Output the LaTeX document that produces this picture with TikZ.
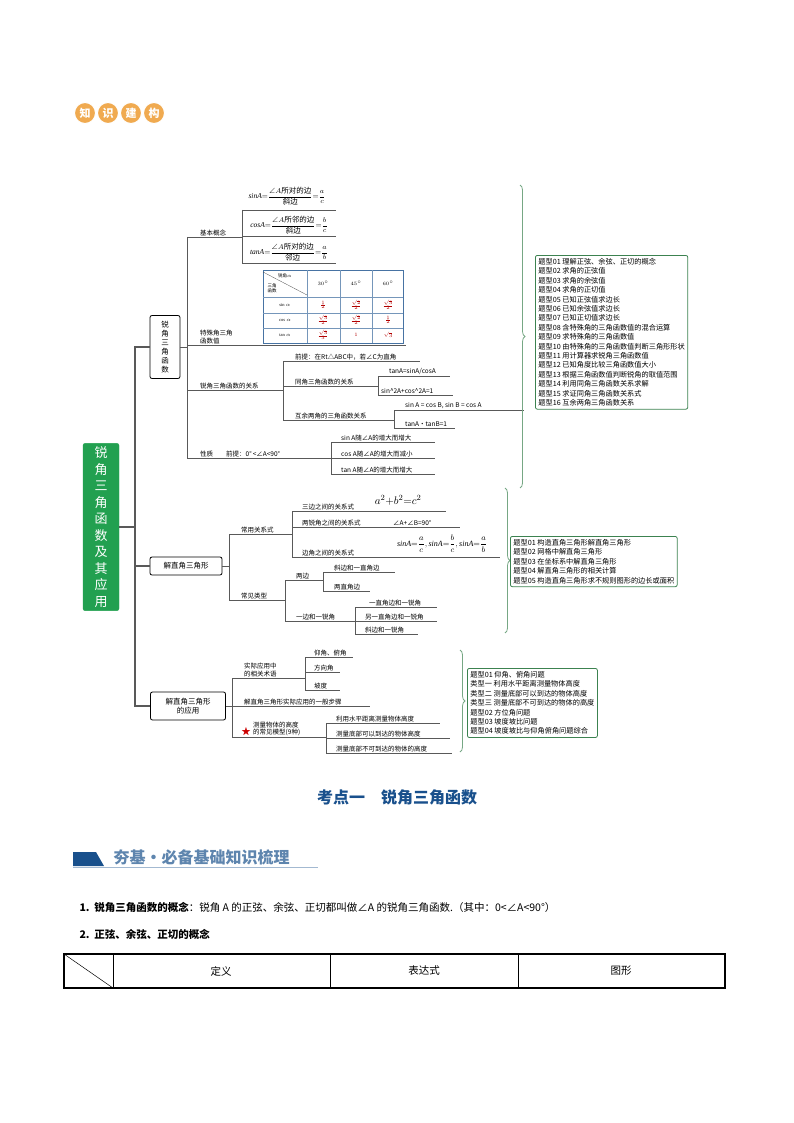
\documentclass[tikz,border=0pt]{standalone}
\usepackage{fontspec}
\usepackage{amsmath,amssymb}
\setmainfont{Liberation Serif}
\newfontfamily\cjk{Noto Sans CJK SC}
\usetikzlibrary{positioning,decorations.pathreplacing}
\definecolor{mgreen}{RGB}{34,160,80}
\definecolor{bgreen}{RGB}{60,130,80}
\definecolor{dblue}{RGB}{25,80,140}
\definecolor{lorange}{RGB}{240,170,80}
\tikzset{
  ln/.style={draw=black!65,line width=0.5pt},
  lbl/.style={font=\cjk\fontsize{6.5}{7.5}\selectfont,inner sep=1pt,anchor=south west},
  sub/.style={draw=black,line width=0.8pt,rounded corners=2pt,fill=white,font=\cjk\fontsize{7.5}{9}\selectfont,align=center},
  qbox/.style={draw=bgreen,line width=0.8pt,rounded corners=2pt,font=\cjk\fontsize{7.2}{9.4}\selectfont,align=left,anchor=north west,inner sep=3pt},
  brc/.style={draw=bgreen!70,line width=0.8pt,decorate,decoration={brace,amplitude=5pt}},
  logo/.style={circle,fill=lorange,draw=white,line width=1pt,minimum size=21pt,inner sep=0pt,text=white,font=\cjk\bfseries\fontsize{11}{11}\selectfont},
  red/.style={text=red!70!black}
}
\begin{document}
\begin{tikzpicture}[x=1pt,y=-1pt]
\useasboundingbox (0,0) rectangle (794,1123);
% logo
\foreach \t [count=\i] in {知,识,建,构}{
  \node[logo] (lg\i) at ({62+23*\i},113) {\t};
}
% main box and trunk
\node[draw=mgreen,fill=mgreen,rounded corners=2pt,minimum width=36pt,minimum height=151pt,text=white,font=\cjk\fontsize{13}{16.5}\selectfont,align=center] (root) at (101,527) {锐\\角\\三\\角\\函\\数\\及\\其\\应\\用};
\node[sub,minimum width=30pt,minimum height=63pt] (b1) at (165,347) {锐\\角\\三\\角\\函\\数};
\node[sub,minimum width=72pt,minimum height=18pt] (b2) at (186,566) {解直角三角形};
\node[sub,minimum width=75pt,minimum height=28pt] (b3) at (188,706) {解直角三角形\\的应用};
\coordinate (t0) at (135,527);
\draw[ln,line width=1.2pt] (root.east) -- (t0);
\draw[ln,line width=1.2pt] (b1.west) -| (t0) |- (b3.west);
\draw[ln,line width=1.2pt] (t0) |- (b2.west);

% ---- branch 1
\draw[ln] (b1.east) -- (187,347);
\draw[ln] (187,237) -- (187,458);
\draw[ln] (187,237) -- (242,237);
\node[lbl] at (199,237) {基本概念};
\draw[ln] (242,210) -- (242,263);
\foreach \y in {210,236,263} \draw[ln] (242,\y) -- (336,\y);
\node[font=\fontsize{7.5}{8}\selectfont] at (287,196) {$\mathit{sinA}{=}\dfrac{\angle A\text{\cjk 所对的边}}{\text{\cjk 斜边}}{=}\dfrac{a}{c}$};
\node[font=\fontsize{7.5}{8}\selectfont] at (289,225) {$\mathit{cosA}{=}\dfrac{\angle A\text{\cjk 所邻的边}}{\text{\cjk 斜边}}{=}\dfrac{b}{c}$};
\node[font=\fontsize{7.5}{8}\selectfont] at (289,252) {$\mathit{tanA}{=}\dfrac{\angle A\text{\cjk 所对的边}}{\text{\cjk 邻边}}{=}\dfrac{a}{b}$};
% table
\draw[dblue!80,line width=0.8pt] (263,270) rectangle (403,343);
\foreach \x in {307,340,372} \draw[dblue!60] (\x,270) -- (\x,343);
\foreach \y in {297,313,328} \draw[dblue!60] (263,\y) -- (403,\y);
\draw[black!70,line width=0.3pt] (263,272) -- (307,295);
\node[font=\cjk\fontsize{4.5}{5}\selectfont] at (285,276) {锐角$\alpha$};
\node[font=\cjk\fontsize{4.5}{5}\selectfont,align=left] at (272,288) {三角\\函数};
\foreach \x/\t in {323/30^\circ,356/45^\circ,388/60^\circ} \node[font=\fontsize{4.5}{5}\selectfont] at (\x,283) {$\t$};
\foreach \y/\t in {305/\sin\alpha,320/\cos\alpha,335/\tan\alpha} \node[font=\fontsize{4.5}{5}\selectfont] at (285,\y) {$\t$};
\begin{scope}[every node/.style={red,font=\fontsize{5}{5}\selectfont}]
\node at (323,305) {$\frac{1}{2}$}; \node at (356,305) {$\frac{\sqrt2}{2}$}; \node at (388,305) {$\frac{\sqrt3}{2}$};
\node at (323,320) {$\frac{\sqrt3}{2}$}; \node at (356,320) {$\frac{\sqrt2}{2}$}; \node at (388,320) {$\frac{1}{2}$};
\node at (323,335) {$\frac{\sqrt3}{3}$}; \node at (356,335) {$1$}; \node at (388,335) {$\sqrt3$};
\end{scope}
\draw[ln] (187,345) -- (406,345);
\node[lbl,align=left] at (199,345) {特殊角三角\\函数值};
% relations
\draw[ln] (187,390) -- (283,390);
\node[lbl] at (199,390) {锐角三角函数的关系};
\draw[ln] (283,361) -- (283,420);
\draw[ln] (283,361) -- (420,361);
\node[lbl] at (294,361) {前提：在Rt△ABC中，若∠C为直角};
\draw[ln] (283,386) -- (378,386);
\node[lbl] at (294,386) {同角三角函数的关系};
\draw[ln] (378,376) -- (378,395);
\draw[ln] (378,376) -- (450,376); \node[lbl] at (388,376) {tanA=sinA/cosA};
\draw[ln] (378,395) -- (453,395); \node[lbl] at (380,395) {sin\textasciicircum2A+cos\textasciicircum2A=1};
\draw[ln] (283,420) -- (394,420);
\node[lbl] at (294,420) {互余两角的三角函数关系};
\draw[ln] (394,410) -- (394,428);
\draw[ln] (394,410) -- (524,410); \node[lbl] at (404,410) {sin A = cos B, sin B = cos A};
\draw[ln] (394,428) -- (455,428); \node[lbl] at (404,428) {tanA·tanB=1};
% properties
\draw[ln] (187,458) -- (331,458);
\node[lbl] at (199,458) {性质\quad\quad 前提：0°\,<∠A<90°};
\draw[ln] (331,442) -- (331,474);
\foreach \y/\t in {442/sin A随∠A的增大而增大,458/cos A随∠A的增大而减小,474/tan A随∠A的增大而增大}{
  \draw[ln] (331,\y) -- (435,\y); \node[lbl] at (340,\y) {\t};
}
\draw[brc] (520,185) -- (520,488);
\node[qbox] (q1) at (535,255) {题型01\ 理解正弦、余弦、正切的概念\\题型02\ 求角的正弦值\\题型03\ 求角的余弦值\\题型04\ 求角的正切值\\题型05\ 已知正弦值求边长\\题型06\ 已知余弦值求边长\\题型07\ 已知正切值求边长\\题型08\ 含特殊角的三角函数值的混合运算\\题型09\ 求特殊角的三角函数值\\题型10\ 由特殊角的三角函数值判断三角形形状\\题型11\ 用计算器求锐角三角函数值\\题型12\ 已知角度比较三角函数值大小\\题型13\ 根据三角函数值判断锐角的取值范围\\题型14\ 利用同角三角函数关系求解\\题型15\ 求证同角三角函数关系式\\题型16\ 互余两角三角函数关系};

% ---- branch 2
\draw[ln] (b2.east) -- (229,566);
\draw[ln] (229,534) -- (229,600);
\draw[ln] (229,534) -- (292,534); \node[lbl] at (240,534) {常用关系式};
\draw[ln] (292,511) -- (292,557);
\draw[ln] (292,511) -- (446,511); \node[lbl] at (301,511) {三边之间的关系式};
\node[font=\fontsize{11}{12}\selectfont,anchor=south] at (398,509) {$a^2{+}b^2{=}c^2$};
\draw[ln] (292,527) -- (460,527); \node[lbl] at (301,527) {两锐角之间的关系式};
\node[lbl] at (392,527) {∠A+∠B=90°};
\draw[ln] (292,557) -- (500,557); \node[lbl] at (301,557) {边角之间的关系式};
\node[font=\fontsize{8}{9}\selectfont,anchor=south] at (442,556) {$\mathit{sinA}{=}\dfrac{a}{c},\mathit{sinA}{=}\dfrac{b}{c},\mathit{sinA}{=}\dfrac{a}{b}$};
\draw[ln] (229,600) -- (285,600); \node[lbl] at (240,600) {常见类型};
\draw[ln] (285,580) -- (285,621);
\draw[ln] (285,580) -- (323,580); \node[lbl] at (295,580) {两边};
\draw[ln] (323,572) -- (323,591);
\draw[ln] (323,572) -- (395,572); \node[lbl] at (333,572) {斜边和一直角边};
\draw[ln] (323,591) -- (370,591); \node[lbl] at (333,591) {两直角边};
\draw[ln] (285,621) -- (355,621); \node[lbl] at (295,621) {一边和一锐角};
\draw[ln] (355,607) -- (355,634);
\draw[ln] (355,607) -- (437,607); \node[lbl] at (368,607) {一直角边和一锐角};
\draw[ln] (355,621) -- (437,621); \node[lbl] at (364,621) {另一直角边和一锐角};
\draw[ln] (355,634) -- (418,634); \node[lbl] at (364,634) {斜边和一锐角};
\draw[brc] (505,488) -- (505,633);
\node[qbox] (q2) at (510,536) {题型01\ 构造直角三角形解直角三角形\\题型02\ 网格中解直角三角形\\题型03\ 在坐标系中解直角三角形\\题型04\ 解直角三角形的相关计算\\题型05\ 构造直角三角形求不规则图形的边长或面积};

% ---- branch 3
\draw[ln] (b3.east) -- (232,706);
\draw[ln] (232,678) -- (232,737);
\draw[ln] (232,678) -- (305,678); \node[lbl,align=left] at (243,678) {实际应用中\\的相关术语};
\draw[ln] (305,657) -- (305,690);
\foreach \y/\e/\t in {657/353/仰角、俯角,672/340/方向角,690/340/坡度}{
  \draw[ln] (305,\y) -- (\e,\y); \node[lbl] at (313,\y) {\t};
}
\draw[ln] (232,706) -- (370,706); \node[lbl] at (243,706) {解直角三角形实际应用的一般步骤};
\draw[ln] (232,737) -- (326,737); \node[lbl,align=left] at (252,737) {测量物体的高度\\的常见模型(9种)};
\node[text=red!80!black,font=\fontsize{10}{10}\selectfont] (star) at (246,732) {$\bigstar$};
\draw[ln] (326,723) -- (326,753);
\foreach \y/\e/\t in {723/440/利用水平距离测量物体高度,738/450/测量底部可以到达的物体高度,753/452/测量底部不可到达的物体的高度}{
  \draw[ln] (326,\y) -- (\e,\y); \node[lbl] at (335,\y) {\t};
}
\draw[brc] (460,650) -- (460,752);
\node[qbox] (q3) at (467,668) {题型01\ 仰角、俯角问题\\类型一\ 利用水平距离测量物体高度\\类型二\ 测量底部可以到达的物体高度\\类型三\ 测量底部不可到达的物体的高度\\题型02\ 方位角问题\\题型03\ 坡度坡比问题\\题型04\ 坡度坡比与仰角俯角问题综合};

% ---- lower text
\node[font=\cjk\bfseries\fontsize{16}{18}\selectfont,text=dblue] (title) at (397,797) {考点一\quad 锐角三角函数};
\fill[dblue] (73,852) -- (96,852) -- (104,866) -- (73,866) -- cycle;
\draw[dblue!40,line width=0.8pt] (73,867) -- (318,867);
\node[font=\cjk\bfseries\fontsize{16}{18}\selectfont,text=dblue!70,anchor=west] (ban) at (110,857) {夯基·必备基础知识梳理};
\node[font=\cjk\fontsize{10.5}{12}\selectfont,anchor=west] (p1) at (76,907) {\textbf{1.}\ \ \textbf{锐角三角函数的概念}：锐角 A 的正弦、余弦、正切都叫做∠A 的锐角三角函数.（其中：0<∠A<90°）};
\node[font=\cjk\fontsize{10.5}{12}\selectfont,anchor=west] (p2) at (76,934) {\textbf{2.}\ \ \textbf{正弦、余弦、正切的概念}};
\draw[line width=1.2pt] (64,954) rectangle (725,988);
\foreach \x in {113,330,518} \draw[line width=0.5pt] (\x,954) -- (\x,988);
\draw[line width=0.5pt] (64,954) -- (113,988);
\foreach \x/\t in {221/定义,424/表达式,621/图形} \node[font=\cjk\fontsize{10.5}{12}\selectfont] at (\x,971) {\t};
\end{tikzpicture}
\end{document}
